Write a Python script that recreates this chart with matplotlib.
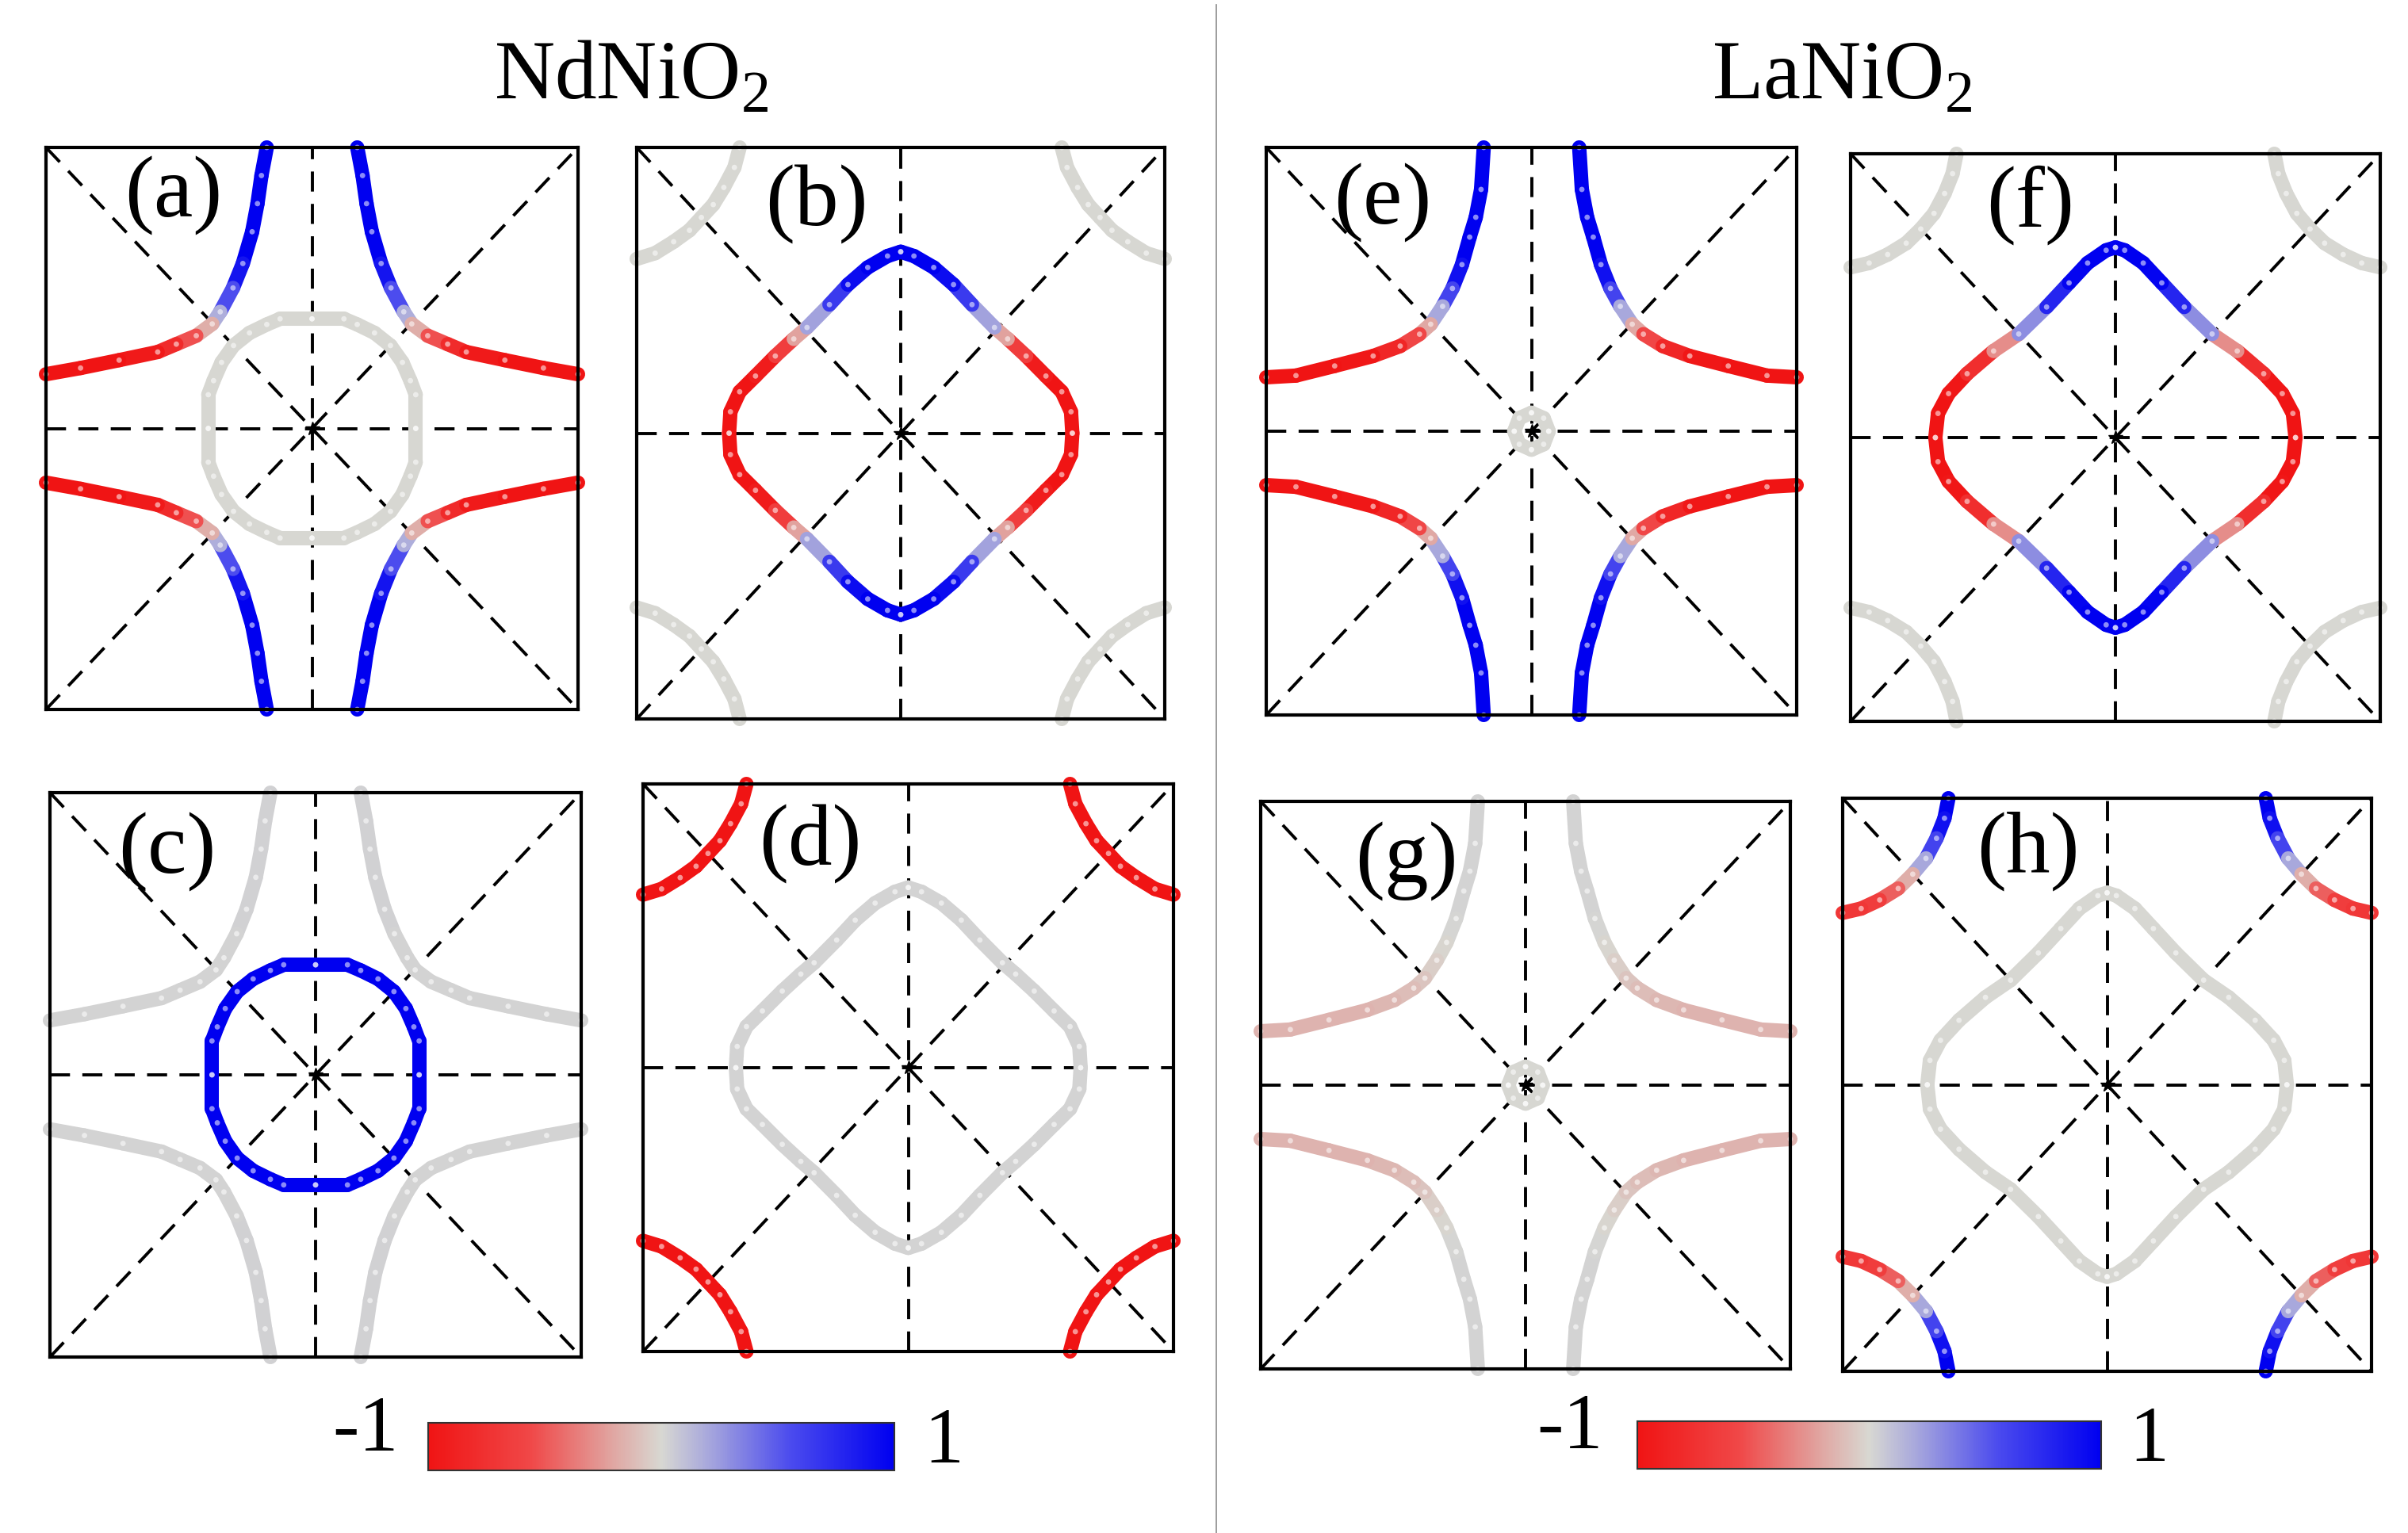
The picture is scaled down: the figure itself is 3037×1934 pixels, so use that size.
import numpy as np
import matplotlib
matplotlib.use('Agg')
import matplotlib.pyplot as plt
from matplotlib.colors import LinearSegmentedColormap, Normalize
from matplotlib.collections import LineCollection
from matplotlib.lines import Line2D
import matplotlib.cm as cm

plt.rcParams['font.family'] = 'Liberation Serif'
plt.rcParams['mathtext.fontset'] = 'custom'
plt.rcParams['mathtext.rm'] = 'Liberation Serif'

# Fermi surface sheets, first quadrant only (kx, ky in units of pi/a), mirrored later
ND_SHEET_KX = [0.17, 0.19, 0.205, 0.225, 0.26, 0.297, 0.345, 0.375, 0.435, 0.51, 0.58, 0.725, 0.87, 1.0]
ND_SHEET_KY = [1.0, 0.9, 0.8, 0.70, 0.587, 0.50, 0.415, 0.372, 0.33, 0.30, 0.272, 0.243, 0.215, 0.193]
LA_SHEET_KX = [0.18, 0.19, 0.21, 0.233, 0.262, 0.298, 0.335, 0.38, 0.422, 0.495, 0.597, 0.742, 0.888, 1.0]
LA_SHEET_KY = [1.0, 0.852, 0.754, 0.684, 0.587, 0.503, 0.44, 0.377, 0.342, 0.30, 0.265, 0.23, 0.196, 0.19]

ND_GAMMA_KX = [0.39, 0.39, 0.37, 0.34, 0.295, 0.235, 0.17, 0.12, 0.0]
ND_GAMMA_KY = [0.0, 0.12, 0.17, 0.235, 0.295, 0.34, 0.37, 0.39, 0.39]
LA_GAMMA_KX = [0.065, 0.046, 0.0]
LA_GAMMA_KY = [0.0, 0.046, 0.065]

ND_DIAMOND_KX = [0.65, 0.645, 0.61, 0.55, 0.475, 0.405, 0.355, 0.27, 0.20, 0.125, 0.05, 0.0]
ND_DIAMOND_KY = [0.0, 0.075, 0.145, 0.20, 0.27, 0.33, 0.37, 0.45, 0.52, 0.58, 0.62, 0.635]
LA_DIAMOND_KX = [0.68, 0.67, 0.63, 0.56, 0.46, 0.365, 0.26, 0.175, 0.105, 0.035, 0.0]
LA_DIAMOND_KY = [0.0, 0.085, 0.155, 0.225, 0.305, 0.365, 0.46, 0.545, 0.615, 0.66, 0.67]

ND_ARC_KX = [0.61, 0.63, 0.67, 0.71, 0.755, 0.80, 0.86, 0.93, 1.0]
ND_ARC_KY = [1.0, 0.93, 0.86, 0.80, 0.755, 0.71, 0.67, 0.63, 0.61]
LA_ARC_KX = [0.60, 0.615, 0.645, 0.685, 0.735, 0.79, 0.86, 0.93, 1.0]
LA_ARC_KY = [1.0, 0.93, 0.86, 0.79, 0.735, 0.685, 0.645, 0.615, 0.60]

# orbital weight along each sheet (-1 red ... 1 blue)
SHEET_A = [1, 1, 1, 1, 1, 0.75, 0.35, 0.0, -0.35, -0.7, -0.9, -1, -1, -1]
SHEET_C = [0.03, 0.03, 0.03, 0.03, 0.03, 0.02, 0.02, 0.02, 0.02, 0.02, 0.02, 0.02, 0.02, 0.02]
SHEET_E = [1, 1, 1, 1, 1, 0.8, 0.4, 0.0, -0.4, -0.75, -0.95, -1, -1, -1]
SHEET_G = [0.02, 0.02, 0.02, 0.02, 0.02, 0.0, -0.03, -0.06, -0.1, -0.13, -0.15, -0.15, -0.15, -0.15]
GAMMA_A = [0.0, 0.0, 0.0, 0.0, 0.0, 0.0, 0.0, 0.0, 0.0]
GAMMA_C = [1, 1, 1, 1, 1, 1, 1, 1, 1]
GAMMA_E = [0.0, 0.0, 0.0]
GAMMA_G = [0.0, 0.0, 0.0]
DIAMOND_B = [-1, -1, -1, -1, -0.85, -0.45, 0.0, 0.45, 0.85, 1, 1, 1]
DIAMOND_D = [0.02, 0.02, 0.02, 0.02, 0.02, 0.02, 0.02, 0.02, 0.02, 0.02, 0.02, 0.02]
DIAMOND_F = [-1, -1, -1, -0.95, -0.6, 0.0, 0.6, 0.95, 1, 1, 1]
DIAMOND_H = [0.0, 0.0, 0.0, 0.0, 0.0, 0.0, 0.0, 0.0, 0.0, 0.0, 0.0]
ARC_B = [0.0, 0.0, 0.0, 0.0, 0.0, 0.0, 0.0, 0.0, 0.0]
ARC_D = [-1, -1, -1, -1, -1, -1, -1, -1, -1]
ARC_F = [0.0, 0.0, 0.0, 0.0, 0.0, 0.0, 0.0, 0.0, 0.0]
ARC_H = [1, 1, 0.8, 0.4, 0.0, -0.35, -0.6, -0.7, -0.7]

TITLES = ['NdNiO$_2$', 'LaNiO$_2$']
CBAR_LABELS = ['-1', '1']

W, H = 3037, 1934
cmap = LinearSegmentedColormap.from_list(
    'rgb', [(0.0, '#f01414'), (0.22, '#f04848'), (0.4, '#e0a8a4'), (0.5, '#d8d8d2'),
            (0.6, '#a8a8dc'), (0.78, '#4a4aee'), (1.0, '#0000f0')])
norm = Normalize(-1, 1)


def px_rect(x0, x1, y0, y1):
    return [x0 / W, 1 - y1 / H, (x1 - x0) / W, (y1 - y0) / H]


def draw_sheet(ax, kx, ky, vals):
    kx = np.asarray(kx); ky = np.asarray(ky); vals = np.asarray(vals, float)
    for sx in (1, -1):
        for sy in (1, -1):
            pts = np.column_stack([sx * kx, sy * ky])
            segs = np.stack([pts[:-1], pts[1:]], axis=1)
            lc = LineCollection(segs, cmap=cmap, norm=norm, linewidths=13,
                                capstyle='round', joinstyle='round', zorder=3, clip_on=False)
            lc.set_array((vals[:-1] + vals[1:]) / 2)
            ax.add_collection(lc)
            ax.scatter(pts[:, 0], pts[:, 1], s=24, facecolors='white', edgecolors='none',
                       alpha=0.55, zorder=4, clip_on=False)


fig = plt.figure(figsize=(W / 100, H / 100), dpi=100)

panels = [
    ('(a)', (58, 729, 186, 895), (0.24, 0.086), [(ND_SHEET_KX, ND_SHEET_KY, SHEET_A), (ND_GAMMA_KX, ND_GAMMA_KY, GAMMA_A)]),
    ('(b)', (803, 1469, 186, 907), (0.34, 0.10), [(ND_DIAMOND_KX, ND_DIAMOND_KY, DIAMOND_B), (ND_ARC_KX, ND_ARC_KY, ARC_B)]),
    ('(c)', (63, 733, 1000, 1712), (0.22, 0.105), [(ND_SHEET_KX, ND_SHEET_KY, SHEET_C), (ND_GAMMA_KX, ND_GAMMA_KY, GAMMA_C)]),
    ('(d)', (811, 1480, 989, 1705), (0.315, 0.106), [(ND_DIAMOND_KX, ND_DIAMOND_KY, DIAMOND_D), (ND_ARC_KX, ND_ARC_KY, ARC_D)]),
    ('(e)', (1597, 2266, 186, 902), (0.22, 0.098), [(LA_SHEET_KX, LA_SHEET_KY, SHEET_E), (LA_GAMMA_KX, LA_GAMMA_KY, GAMMA_E)]),
    ('(f)', (2334, 3002, 194, 910), (0.34, 0.09), [(LA_DIAMOND_KX, LA_DIAMOND_KY, DIAMOND_F), (LA_ARC_KX, LA_ARC_KY, ARC_F)]),
    ('(g)', (1590, 2258, 1011, 1727), (0.275, 0.106), [(LA_SHEET_KX, LA_SHEET_KY, SHEET_G), (LA_GAMMA_KX, LA_GAMMA_KY, GAMMA_G)]),
    ('(h)', (2324, 2991, 1007, 1730), (0.35, 0.093), [(LA_DIAMOND_KX, LA_DIAMOND_KY, DIAMOND_H), (LA_ARC_KX, LA_ARC_KY, ARC_H)]),
]

for label, (x0, x1, y0, y1), (lx, ly), sheets in panels:
    ax = fig.add_axes(px_rect(x0, x1, y0, y1))
    ax.set_xlim(-1, 1)
    ax.set_ylim(-1, 1)
    ax.set_xticks([])
    ax.set_yticks([])
    for sp in ax.spines.values():
        sp.set_linewidth(3.0)
        sp.set_zorder(6)
    dash = dict(color='black', lw=2.8, dashes=(6.5, 4), zorder=2)
    ax.plot([-1, 1], [0, 0], **dash)
    ax.plot([0, 0], [-1, 1], **dash)
    ax.plot([-1, 1], [-1, 1], **dash)
    ax.plot([-1, 1], [1, -1], **dash)
    for kx, ky, vals in sheets:
        draw_sheet(ax, kx, ky, vals)
    ax.plot(0, 0, marker='*', color='black', ms=13, zorder=5)
    ax.text(lx, 1 - ly, label, transform=ax.transAxes, ha='center', va='center',
            fontsize=80, zorder=7)

# compound titles
fig.text(796 / W, 1 - 125 / H, TITLES[0], ha='center', va='baseline', fontsize=76)
fig.text(2323 / W, 1 - 125 / H, TITLES[1], ha='center', va='baseline', fontsize=76)

# separator
fig.add_artist(Line2D([1534 / W, 1534 / W], [0, 1 - 6 / H], transform=fig.transFigure,
                      color='#8c8c8c', lw=1.2))

# colour bars
sm = cm.ScalarMappable(norm=norm, cmap=cmap)
for (x0, x1, y0, y1), (lx0, ly0), (lx1, ly1) in [
        ((540, 1128, 1795, 1855), (461, 1806), (1190, 1821)),
        ((2065, 2650, 1793, 1853), (1980, 1803), (2710, 1819))]:
    cax = fig.add_axes(px_rect(x0, x1, y0, y1))
    cb = fig.colorbar(sm, cax=cax, orientation='horizontal')
    cb.set_ticks([])
    cb.outline.set_linewidth(1.5)
    cb.outline.set_edgecolor('#333333')
    fig.text(lx0 / W, 1 - ly0 / H, CBAR_LABELS[0], ha='center', va='center', fontsize=72)
    fig.text(lx1 / W, 1 - ly1 / H, CBAR_LABELS[1], ha='center', va='center', fontsize=72)

fig.savefig('out.png', dpi=100, facecolor='white')
